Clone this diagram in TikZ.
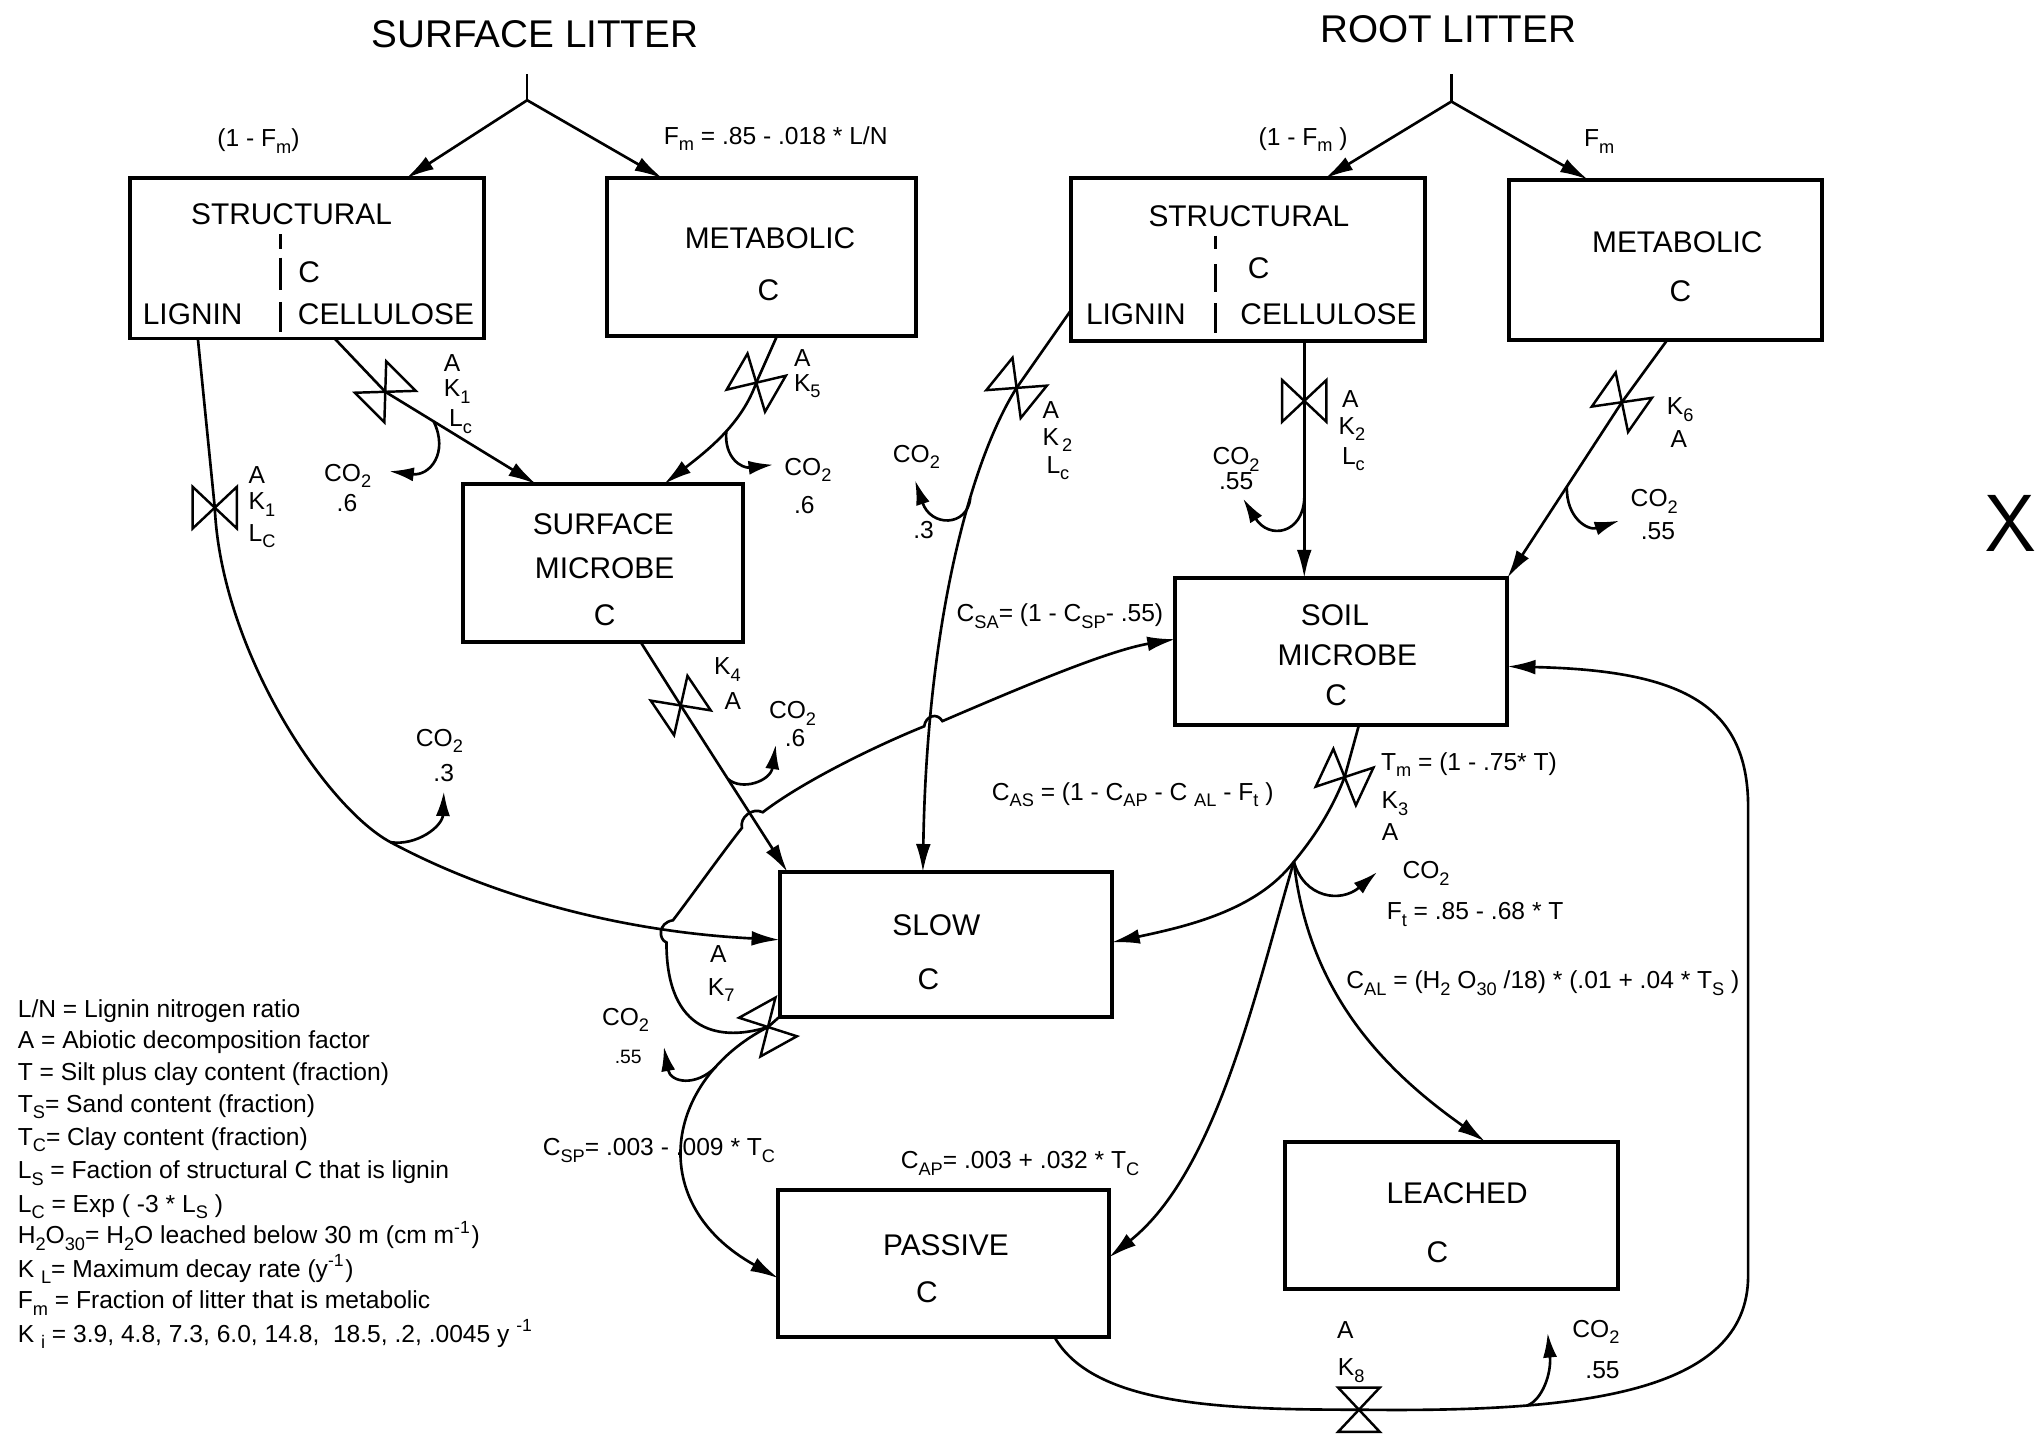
\documentclass[tikz,border=0pt]{standalone}
\usepackage{fontspec}
\setmainfont{Liberation Sans}
\usetikzlibrary{arrows.meta,calc,fit}
% subscripts set a little larger and lower than \textsubscript
\makeatletter
\newcommand\sbs[1]{\raisebox{-0.5ex}{\fontsize{\strip@pt\dimexpr0.74\dimexpr\f@size pt\relax\relax}{1}\selectfont #1}}
\makeatother
\newcommand\sps[1]{\textsuperscript{#1}}
% a flow-control valve: two triangles meeting at their apex
\newcommand\valve[2]{\draw[valveline, shift={(#1)}, rotate=#2]
  (0,0) -- (-17,-16) -- (-17,16) -- cycle
  (0,0) -- (17,-16) -- (17,16) -- cycle;}

\begin{document}
\begin{tikzpicture}[x=0.013017cm, y=-0.013017cm,
  every node/.style={inner sep=0pt, outer sep=0pt},
  pool/.style={draw, line width=1.1pt, inner sep=0pt, outer sep=0pt},
  flow/.style={line width=0.75pt},
  flowarr/.style={flow, -{Latex[length=8pt,width=4.2pt]}},
  co2hook/.style={flow, -{Latex[length=7pt,width=4pt]}},
  valveline/.style={line width=0.7pt, line join=miter},
  lab/.style={font=\fontsize{7}{8.4}\selectfont, anchor=base west, yshift=-2.5pt},
  labc/.style={lab, anchor=base},
  boxtxt/.style={font=\fontsize{8.5}{10}\selectfont, anchor=base, yshift=-3.05pt},
  ttl/.style={font=\fontsize{11}{13}\selectfont, anchor=base, yshift=-3.95pt},
  sep/.style={line width=0.8pt},
]
\useasboundingbox (0,0) rectangle (1568,1102);

% ---------- pools ----------
\node[pool, fit={(100,137) (372,260)}] (sstr) {};
\node[pool, fit={(466,137) (704,258)}] (smet) {};
\node[pool, fit={(823,137) (1095,262)}] (rstr) {};
\node[pool, fit={(1159,138) (1400,261)}] (rmet) {};
\node[pool, fit={(356,372) (571,493)}] (smic) {};
\node[pool, fit={(903,444) (1158,557)}] (soil) {};
\node[pool, fit={(599,670) (854,781)}] (slow) {};
\node[pool, fit={(598,914) (852,1027)}] (pass) {};
\node[pool, fit={(987,877) (1243,990)}] (leach) {};

% ---------- titles ----------
\node[ttl] (tsurf) at (411,25.6) {SURFACE LITTER};
\node[ttl] (troot) at (1112.6,22) {ROOT LITTER};

% ---------- pool labels ----------
\node[boxtxt] (sstr1) at (224,164) {STRUCTURAL};
\node[boxtxt] (sstr2) at (237.5,208.7) {C};
\node[boxtxt] (sstr3) at (148,240.7) {LIGNIN};
\node[boxtxt] (sstr4) at (296.5,240.7) {CELLULOSE};
\draw[sep] (215.6,180) -- (215.6,191) (215.6,198) -- (215.6,223) (215.6,232) -- (215.6,255);
\node[boxtxt] (smet1) at (591.6,183) {METABOLIC};
\node[boxtxt] (smet2) at (590.4,222.8) {C};
\node[boxtxt] (rstr1) at (959.5,166) {STRUCTURAL};
\node[boxtxt] (rstr2) at (967,206) {C};
\node[boxtxt] (rstr3) at (872.6,241) {LIGNIN};
\node[boxtxt] (rstr4) at (1020.6,241) {CELLULOSE};
\draw[sep] (934,181) -- (934,191) (934,203) -- (934,224) (934,233) -- (934,256);
\node[boxtxt] (rmet1) at (1288.6,185.5) {METABOLIC};
\node[boxtxt] (rmet2) at (1291,223.7) {C};
\node[boxtxt] (smic1) at (463.5,402.3) {SURFACE};
\node[boxtxt] (smic2) at (464.5,436) {MICROBE};
\node[boxtxt] (smic3) at (464.5,472.5) {C};
\node[boxtxt] (soil1) at (1025.5,472.5) {SOIL};
\node[boxtxt] (soil2) at (1035,503) {MICROBE};
\node[boxtxt] (soil3) at (1026.5,534) {C};
\node[boxtxt] (slow1) at (719.4,710.6) {SLOW};
\node[boxtxt] (slow2) at (713.2,751.6) {C};
\node[boxtxt] (pass1) at (726.7,956.5) {PASSIVE};
\node[boxtxt] (pass2) at (712,992.3) {C};
\node[boxtxt] (leach1) at (1119.4,916.7) {LEACHED};
\node[boxtxt] (leach2) at (1104.3,961.6) {C};

% ---------- junctions, valves, hook tips ----------
\coordinate (sstem) at (405,57);   \coordinate (ssplit) at (405,77);
\coordinate (rstem) at (1115,57);  \coordinate (rsplit) at (1115,78);
\coordinate (v1) at (165,390);
\coordinate (v2) at (296,301);
\coordinate (v3) at (581,294);
\coordinate (v4) at (781,298);
\coordinate (v5) at (1002,308);
\coordinate (v6) at (1246,309);
\coordinate (v7) at (523,542);
\coordinate (v8) at (1033,597);
\coordinate (v9) at (590,789);
\coordinate (v10) at (1044,1083);
\coordinate (branch) at (994,662);
\coordinate (t1) at (341,608);
\coordinate (t2) at (299,362);
\coordinate (t3) at (594,357);
\coordinate (t4) at (703,369);
\coordinate (t5) at (955,383);
\coordinate (t6) at (1244,400);
\coordinate (t7) at (596,572);
\coordinate (t8) at (1058,670);
\coordinate (t9) at (510,804);
\coordinate (t10) at (1189,1024);

% ---------- litter partitioning ----------
\draw[flow] (sstem) -- (ssplit);
\draw[flowarr] (ssplit) -- ($(sstr.north west)+(212,0)$);
\draw[flowarr] (ssplit) -- ($(smet.north west)+(43,0)$);
\draw[flow] (rstem) -- (rsplit);
\draw[flowarr] (rsplit) -- ($(rstr.north west)+(195,0)$);
\draw[flowarr] (rsplit) -- ($(rmet.north west)+(61,0)$);

% ---------- flows ----------
% surface lignin -> slow
\draw[flowarr] ($(sstr.south west)+(52,0)$) -- (v1)
  .. controls (170,500) and (250,620) .. (300,647) coordinate (h1)
  .. controls (380,690) and (480,716) .. ($(slow.north west)+(0,52)$);
\draw[co2hook] (h1) .. controls (320,650) and (340,635) .. (t1);
% surface cellulose -> surface microbe
\draw[flowarr] ($(sstr.south west)+(157,0)$) -- (v2) -- coordinate[pos=0.32] (h2) ($(smic.north west)+(56,0)$);
\draw[co2hook] (h2) .. controls (345,348) and (330,366) .. (t2);
% surface metabolic -> surface microbe
\draw[flowarr] ($(smet.south west)+(131,0)$) -- (v3)
  .. controls (570,325) and (545,345) .. coordinate[pos=0.45] (h3) ($(smic.north west)+(154,0)$);
\draw[co2hook] (h3) .. controls (556,352) and (570,360) .. (t3);
% root lignin -> slow
\draw[flowarr] ($(rstr.south west)+(0,-24)$) -- (v4)
  .. controls (745,355) and (712,480) .. coordinate[pos=0.35] (h4) ($(slow.north west)+(110,0)$);
\draw[co2hook] (h4) .. controls (743,405) and (715,405) .. (t4);
% root cellulose -> soil microbe
\draw[flowarr] ($(rstr.south west)+(179,0)$) -- (v5) -- coordinate[pos=0.55] (h5) ($(soil.north west)+(99,0)$);
\draw[co2hook] (h5) .. controls (1001,410) and (975,415) .. (t5);
% root metabolic -> soil microbe
\draw[flowarr] ($(rmet.south west)+(122,0)$) -- (v6) -- coordinate[pos=0.48] (h6) (soil.north east);
\draw[co2hook] (h6) .. controls (1203,398) and (1220,408) .. (t6);
% surface microbe -> slow
\draw[flowarr] ($(smic.south west)+(136,0)$) -- (v7) -- coordinate[pos=0.44] (h7) ($(slow.north west)+(6,0)$);
\draw[co2hook] (h7) .. controls (570,608) and (592,600) .. (t7);
% soil microbe -> slow, passive, leached
\draw[flow] ($(soil.south west)+(141,0)$) -- (v8) .. controls (1022,625) and (1008,645) .. (branch);
\draw[flowarr] (branch) .. controls (965,700) and (910,712) .. ($(slow.south east)+(0,-57)$);
\draw[flowarr] (branch) .. controls (965,760) and (935,900) .. ($(pass.north east)+(0,52)$);
\draw[flowarr] (branch) .. controls (1005,760) and (1060,820) .. ($(leach.north west)+(154,0)$);
\draw[co2hook] (branch) .. controls (1002,690) and (1030,694) .. (t8);
% slow -> passive and soil microbe
\draw[flow] (slow.south west) -- (v9);
\draw[flowarr] (v9) .. controls (510,830) and (495,925) .. coordinate[pos=0.2] (h9) ($(pass.north west)+(0,68)$);
\draw[co2hook] (h9) .. controls (535,835) and (515,832) .. (t9);
\draw[flowarr] (v9) .. controls (555,800) and (512,795) .. (512,724)
  .. controls (506,722) and (505,709) .. (517,707)
  .. controls (530,690) and (555,655) .. (570,636)
  .. controls (568,628) and (578,620) .. (586,624)
  .. controls (620,598) and (680,570) .. (710,558)
  .. controls (711,550) and (720,547) .. (724,554)
  .. controls (780,530) and (850,500) .. ($(soil.north west)+(0,47)$);
% passive -> soil microbe
\draw[flowarr] ($(pass.south west)+(212,0)$) .. controls (840,1080) and (940,1083) .. (v10)
  .. controls (1210,1085) and (1343,1072) .. coordinate[pos=0.28] (h10) (1343,980)
  -- (1343,620) .. controls (1343,540) and (1290,515) .. ($(soil.south east)+(0,-45)$);
\draw[co2hook] (h10) .. controls (1185,1075) and (1192,1055) .. (t10);

% ---------- valves ----------
\valve{v1}{0}
\valve{v2}{45}
\valve{v3}{-30}
\valve{v4}{-39}
\valve{v5}{0}
\valve{v6}{-35}
\valve{v7}{34}
\valve{v8}{-25}
\valve{v9}{-61}
\valve{v10}{90}

% ---------- rate labels ----------
\node[lab] (lsf1) at (167,106) {(1 - F\sbs{m})};
\node[lab] (lsf2) at (510,104) {F\sbs{m} = .85 - .018 * L/N};
\node[lab] (lrf1) at (967,105) {(1 - F\sbs{m} )};
\node[lab] (lrf2) at (1217,106) {F\sbs{m}};

\node[lab] (k1a) at (191,365) {A};
\node[lab] (k1b) at (191,385) {K\sbs{1}};
\node[lab] (k1c) at (191,409) {L\sbs{C}};
\node[lab] (k2a) at (341,279) {A};
\node[lab] (k2b) at (341,298) {K\sbs{1}};
\node[lab] (k2c) at (345,321) {L\sbs{c}};
\node[lab] (k3a) at (610,275) {A};
\node[lab] (k3b) at (610,294) {K\sbs{5}};
\node[lab] (k4a) at (801,315) {A};
\node[lab] (k4b) at (801,335.5) {K\sbs{\,2}};
\node[lab] (k4c) at (804,357) {L\sbs{c}};
\node[lab] (k5a) at (1031,306) {A};
\node[lab] (k5b) at (1028.4,327) {K\sbs{2}};
\node[lab] (k5c) at (1031,350) {L\sbs{c}};
\node[lab] (k6a) at (1280.6,312) {K\sbs{6}};
\node[lab] (k6b) at (1283.5,337) {A};
\node[lab] (k7a) at (548.6,511.5) {K\sbs{4}};
\node[lab] (k7b) at (556.6,538.6) {A};
\node[lab] (k8a) at (1061,585) {T\sbs{m} = (1 - .75* T)};
\node[lab] (k8b) at (1061.4,614.6) {K\sbs{3}};
\node[lab] (k8c) at (1061.6,639) {A};
\node[labc] (k9a) at (551.8,732.4) {A};
\node[labc] (k9b) at (554,758) {K\sbs{7}};
\node[labc] (k10a) at (1033.6,1021.8) {A};
\node[labc] (k10b) at (1038,1050) {K\sbs{8}};

% ---------- respiration labels ----------
\node[lab] (c1a) at (319.5,566.7) {CO\sbs{2}};
\node[lab] (c1b) at (333,593.7) {.3};
\node[lab] (c2a) at (249,363) {CO\sbs{2}};
\node[lab] (c2b) at (258.7,386) {.6};
\node[lab] (c3a) at (602.6,358.5) {CO\sbs{2}};
\node[lab] (c3b) at (610,388) {.6};
\node[lab] (c4a) at (686,348.3) {CO\sbs{2}};
\node[lab] (c4b) at (701.6,407) {.3};
\node[lab] (c5a) at (931.5,350.3) {CO\sbs{2}};
\node[lab] (c5b) at (936.5,369.5) {.55};
\node[lab] (c6a) at (1252.8,382.6) {CO\sbs{2}};
\node[lab] (c6b) at (1260.5,407.7) {.55};
\node[lab] (c7a) at (590.8,545.5) {CO\sbs{2}};
\node[lab] (c7b) at (603,567) {.6};
\node[lab] (c8a) at (1077.5,668.4) {CO\sbs{2}};
\node[lab] (c9a) at (462.5,781) {CO\sbs{2}};
\node[lab, font=\fontsize{5.5}{6.5}\selectfont, yshift=-0.5pt] (c9b) at (472.3,809.2) {.55};
\node[lab] (c10a) at (1208,1020.5) {CO\sbs{2}};
\node[lab] (c10b) at (1218,1052.5) {.55};

% ---------- partition coefficients ----------
\node[lab] (csa) at (735,471) {C\sbs{SA}= (1 - C\sbs{SP}- .55)};
\node[lab] (cas) at (762,608) {C\sbs{AS} = (1 - C\sbs{AP} - C \sbs{AL} - F\sbs{t} )};
\node[lab] (ft)  at (1065.4,700) {F\sbs{t} = .85 - .68 * T};
\node[lab] (cal) at (1034.4,753) {C\sbs{AL} = (H\sbs{2} O\sbs{30} /18) * (.01 + .04 * T\sbs{S} )};
\node[lab] (csp) at (417,881) {C\sbs{SP}= .003 - .009 * T\sbs{C}};
\node[lab] (cap) at (692,891) {C\sbs{AP}= .003 + .032 * T\sbs{C}};

% ---------- legend ----------
\node[lab] (g1)  at (13.7,774.6) {L/N = Lignin nitrogen ratio};
\node[lab] (g2)  at (13.7,799) {A = Abiotic decomposition factor};
\node[lab] (g3)  at (13.7,823.3) {T = Silt plus clay content (fraction)};
\node[lab] (g4)  at (13.7,847.6) {T\sbs{S}= Sand content (fraction)};
\node[lab] (g5)  at (13.7,873.2) {T\sbs{C}= Clay content (fraction)};
\node[lab] (g6)  at (13.7,898.8) {L\sbs{S} = Faction of structural C that is lignin};
\node[lab] (g7)  at (13.7,924.4) {L\sbs{C} = Exp ( -3 * L\sbs{S} )};
\node[lab] (g8)  at (13.7,948.8) {H\sbs{2}O\sbs{30}= H\sbs{2}O leached below 30 m (cm m\sps{-1})};
\node[lab] (g9)  at (13.7,974.3) {K \sbs{L}= Maximum decay rate (y\sps{-1})};
\node[lab] (g10) at (13.7,998.7) {F\sbs{m} = Fraction of litter that is metabolic};
\node[lab] (g11) at (13.7,1024.3) {K \sbs{i} = 3.9, 4.8, 7.3, 6.0, 14.8,\ \ 18.5, .2, .0045 y \sps{-1}};

% ---------- mark at the right edge ----------
\node[font=\sffamily\fontsize{23}{23}\selectfont, anchor=base] (xmark) at (1545,424) {X};
\end{tikzpicture}
\end{document}
